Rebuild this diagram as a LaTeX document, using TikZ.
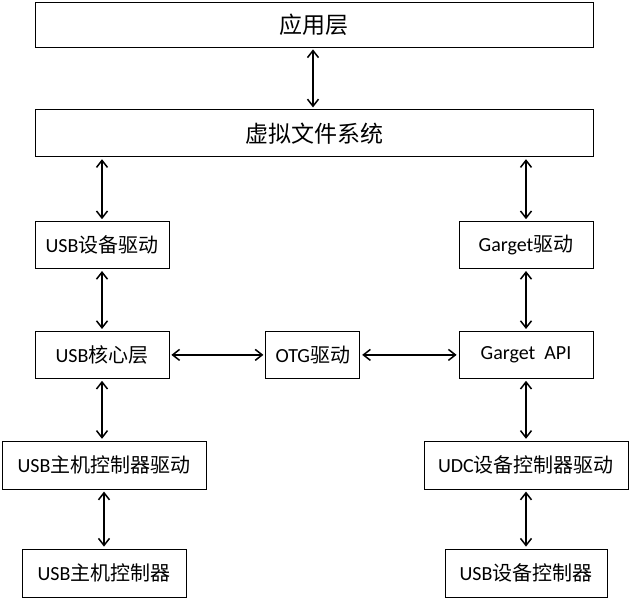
\documentclass[tikz,border=0pt]{standalone}
\usepackage{fontspec}
\setmainfont{Carlito}
\newfontfamily\cjk{Noto Sans CJK SC}
\usepackage{tikz}
\usetikzlibrary{positioning,arrows.meta}

\tikzset{
  layer/.style={draw=black, line width=0.8pt, minimum width=558pt, minimum height=45pt,
    inner sep=0pt, font=\fontsize{23}{26}\selectfont},
  block/.style={draw=black, line width=0.8pt, minimum width=134pt, minimum height=47pt,
    inner sep=0pt, font=\fontsize{20}{24}\selectfont},
  link/.style={line width=1.5pt, {Straight Barb[length=7pt,width=11pt]}-{Straight Barb[length=7pt,width=11pt]},
    shorten >=2pt, shorten <=2pt}
}

\begin{document}
\begin{tikzpicture}[x=1pt,y=1pt]
\useasboundingbox (0,0) rectangle (633,-599);

\node [layer] (app) at (314,-24.5) {\cjk 应用层};
\node [layer, minimum height=47pt] (vfs) [below=62pt of app] {\cjk 虚拟文件系统};

% host side
\node [block] (usbdev) [below right=64pt and 0pt of vfs.south west] {USB{\cjk 设备驱动}};
\node [block] (core) [below=62pt of usbdev] {USB{\cjk 核心层}};
\node [block, minimum width=204pt, minimum height=48pt] (hcd) [below=62pt of core, xshift=2pt] {USB{\cjk 主机控制器驱动}};
\node [block, minimum width=164pt, minimum height=48pt] (hc) [below=59pt of hcd] {USB{\cjk 主机控制器}};

% otg
\node [block, minimum width=94pt] (otg) [right=96pt of core] {OTG{\cjk 驱动}};

% device side
\node [block] (garget) [below left=64pt and 0pt of vfs.south east] {Garget{\cjk 驱动}};
\node [block] (api) [below=62pt of garget] {Garget\ \ API};
\node [block, minimum width=204pt, minimum height=48pt] (udc) [below=62pt of api] {UDC{\cjk 设备控制器驱动}};
\node [block, minimum width=162pt, minimum height=48pt] (dc) [below=59pt of udc] {USB{\cjk 设备控制器}};

\draw [link] (app.south -| 313,0) -- (vfs.north -| 313,0);
\draw [link] (vfs.south -| usbdev.north) -- (usbdev.north);
\draw [link] (vfs.south -| garget.north) -- (garget.north);
\draw [link] (usbdev) -- (core);
\draw [link] (garget) -- (api);
\draw [link] (core.south) -- (hcd.north -| core.south);
\draw [link] (hcd) -- (hc);
\draw [link] (api) -- (udc);
\draw [link] (udc) -- (dc);
\draw [link] (core) -- (otg);
\draw [link] (otg) -- (api);

\end{tikzpicture}
\end{document}
